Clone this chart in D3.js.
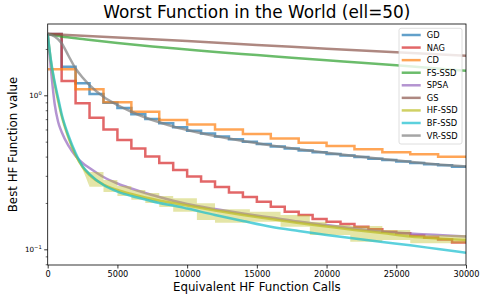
<!DOCTYPE html>
<html>
<head>
<meta charset="utf-8">
<script src="https://cdn.jsdelivr.net/npm/d3@7"></script>
<style>
  body { margin: 0; background: #fff; }
  svg text { font-family: "DejaVu Sans", sans-serif; fill: #000; }
</style>
</head>
<body>
<div id="chart"></div>
<script>
// ---- data (x = HF function calls, y = best value) ----
const xTickValues = [0, 5000, 10000, 15000, 20000, 25000, 30000];
const yMajorTicks = [0.1, 1];
const yMinorTicks = [0.08, 0.09, 0.2, 0.3, 0.4, 0.5, 0.6, 0.7, 0.8, 0.9, 2];

const names = ["GD", "NAG", "CD", "FS-SSD", "SPSA", "GS", "HF-SSD", "BF-SSD", "VR-SSD"];

// step methods, one value per 1000 calls
const callsBy1000 = [0, 1000, 2000, 3000, 4000, 5000, 6000, 7000, 8000, 9000,
  10000, 11000, 12000, 13000, 14000, 15000, 16000, 17000, 18000, 19000,
  20000, 21000, 22000, 23000, 24000, 25000, 26000, 27000, 28000, 29000];
const gdValues = [2.5, 1.534, 1.197, 1.020, 0.895, 0.827, 0.753, 0.702, 0.658, 0.620,
  0.589, 0.565, 0.540, 0.518, 0.500, 0.483, 0.466, 0.451, 0.438, 0.427,
  0.416, 0.406, 0.397, 0.388, 0.380, 0.372, 0.364, 0.357, 0.351, 0.344];
const nagValues = [2.5, 1.238, 0.887, 0.715, 0.600, 0.513, 0.451, 0.400, 0.363, 0.327,
  0.297, 0.276, 0.254, 0.234, 0.2186, 0.2038, 0.189, 0.1754, 0.167, 0.1573,
  0.1511, 0.146, 0.1402, 0.1349, 0.1301, 0.127, 0.1229, 0.1193, 0.1158, 0.1107];

// CD steps every 2000 calls
const callsBy2000 = [0, 2000, 4000, 6000, 8000, 10000, 12000, 14000, 16000, 18000,
  20000, 22000, 24000, 26000, 28000];
const cdValues = [1.475, 1.094, 0.901, 0.782, 0.691, 0.646, 0.600, 0.561, 0.524, 0.492,
  0.469, 0.446, 0.427, 0.414, 0.399];

// slow methods
const gsCalls = [0, 2500, 5000, 7500, 10000, 12500, 15000, 17500, 20000, 22500, 25000, 27500, 30000];
const gsValues = [2.5, 2.434, 2.373, 2.310, 2.252, 2.186, 2.121, 2.065, 2.007, 1.954, 1.902, 1.854, 1.807];
const fsCalls = [0, 1000, 2500, 5000, 7500, 10000, 12500, 15000, 17500, 20000, 22500, 25000, 27500, 30000];
const fsValues = [2.5, 2.409, 2.321, 2.186, 2.074, 1.983, 1.896, 1.827, 1.754, 1.688, 1.628, 1.566, 1.504, 1.444];

// fast smooth methods on a shared grid
const smoothCalls = [0, 250, 500, 750, 1000, 1500, 2000, 2500, 3000, 4000, 5000, 6000, 7000,
  8000, 9000, 10000, 12000, 14000, 16000, 18000, 20000, 22000, 24000, 26000, 28000, 30000];
const spsaValues = [2.5, 1.417, 0.878, 0.671, 0.578, 0.469, 0.4036, 0.3634, 0.3372, 0.2947, 0.2676,
  0.2482, 0.2320, 0.2186, 0.2068, 0.1968, 0.1827, 0.1708, 0.1609, 0.1515, 0.1438, 0.1365,
  0.1305, 0.1266, 0.1239, 0.1211];
const hfValues = [2.5, 1.621, 1.184, 0.918, 0.734, 0.528, 0.4097, 0.3423, 0.3038, 0.2635, 0.2427,
  0.2286, 0.2170, 0.2074, 0.1998, 0.1925, 0.1786, 0.1670, 0.1573, 0.1482, 0.1406, 0.1335,
  0.1276, 0.1211, 0.1175, 0.1149];
const bfValues = [2.5, 1.645, 1.220, 0.960, 0.756, 0.544, 0.422, 0.347, 0.308, 0.2615, 0.2372,
  0.2219, 0.2106, 0.1998, 0.1925, 0.1840, 0.1670, 0.1527, 0.1402, 0.1315, 0.1239, 0.1175,
  0.1115, 0.1062, 0.1004, 0.0950];

const vrCalls = [0, 500, 1000, 1500, 2000, 2500, 3000, 4000, 5000, 6000, 7000, 8000, 9000,
  10000, 12000, 14000, 16000, 18000, 20000, 22000, 24000, 26000, 28000, 30000];
const vrValues = [2.5, 2.409, 2.177, 1.80, 1.493, 1.305, 1.166, 0.979, 0.865, 0.782, 0.718, 0.668,
  0.627, 0.595, 0.544, 0.505, 0.473, 0.446, 0.423, 0.404, 0.386, 0.370, 0.356, 0.345];

// HF-SSD spread band (smooth up to 3000, stepped afterwards)
const hfBandCalls = [0, 250, 500, 750, 1000, 1500, 2000, 2500, 3000, 4000, 5000, 6000, 7000, 8000,
  9000, 10700, 12000, 14500, 16700, 18800, 20000, 21700, 24000, 26000, 30000];
const hfBandHigh = [2.5, 1.68, 1.24, 0.95, 0.76, 0.545, 0.42, 0.352, 0.3176, 0.2818, 0.2576, 0.2427,
  0.2320, 0.2219, 0.2144, 0.1989, 0.1818, 0.1754, 0.1670, 0.1511, 0.1438, 0.1417, 0.1335, 0.1239, 0.1239];
const hfBandLow = [2.5, 1.57, 1.14, 0.885, 0.71, 0.51, 0.395, 0.33, 0.255, 0.236, 0.222, 0.210,
  0.1998, 0.1882, 0.1754, 0.1550, 0.1488, 0.1511, 0.1402, 0.1239, 0.1239, 0.1120, 0.1149, 0.1094, 0.1094];

// ---- layout ----
const W = 486, H = 300;
const margin = {top: 24, right: 20, bottom: 35, left: 47.7};
const colors = ["#1f77b4", "#d62728", "#ff7f0e", "#2ca02c", "#9467bd", "#8c564b", "#bcbd22", "#17becf", "#7f7f7f"];
const lineW = 2.5, lineAlpha = 0.7;

const x = d3.scaleLinear().domain([0, 30000]).range([margin.left, W - margin.right]);
const y = d3.scaleLog().domain([0.0791, 2.904]).range([H - margin.bottom, margin.top]);

const svg = d3.select("#chart").append("svg")
  .attr("width", W)
  .attr("height", H);

svg.append("defs").append("clipPath").attr("id", "clip")
  .append("rect")
  .attr("x", x.range()[0]).attr("y", margin.top)
  .attr("width", x.range()[1] - x.range()[0])
  .attr("height", H - margin.bottom - margin.top);

const plot = svg.append("g").attr("clip-path", "url(#clip)");

const pairs = (xs, vs) => xs.map((d, i) => [d, vs[i]]);
// close a step series at the right edge of the axis
const stepPairs = (xs, vs) => pairs(xs, vs).concat([[30000, vs[vs.length - 1]]]);

const smooth = d3.line().x(d => x(d[0])).y(d => y(d[1])).curve(d3.curveMonotoneX);
const straight = d3.line().x(d => x(d[0])).y(d => y(d[1]));
const stepped = d3.line().x(d => x(d[0])).y(d => y(d[1])).curve(d3.curveStepAfter);

function drawLine(pts, gen, color) {
  plot.append("path")
    .datum(pts)
    .attr("d", gen)
    .attr("fill", "none")
    .attr("stroke", color)
    .attr("stroke-width", lineW)
    .attr("stroke-opacity", lineAlpha)
    .attr("stroke-linejoin", "miter");
}

drawLine(stepPairs(callsBy1000, gdValues), stepped, colors[0]);
drawLine(stepPairs(callsBy1000, nagValues), stepped, colors[1]);
drawLine(stepPairs(callsBy2000, cdValues), stepped, colors[2]);
drawLine(pairs(fsCalls, fsValues), smooth, colors[3]);
drawLine(pairs(smoothCalls, spsaValues), smooth, colors[4]);
drawLine(pairs(gsCalls, gsValues), straight, colors[5]);

// HF-SSD band
const band = hfBandCalls.map((d, i) => ({c: d, hi: hfBandHigh[i], lo: hfBandLow[i]}));
const splitAt = hfBandCalls.indexOf(3000);
const areaSmooth = d3.area().x(d => x(d.c)).y0(d => y(d.lo)).y1(d => y(d.hi)).curve(d3.curveMonotoneX);
const areaStep = d3.area().x(d => x(d.c)).y0(d => y(d.lo)).y1(d => y(d.hi)).curve(d3.curveStepAfter);
plot.append("path").datum(band.slice(0, splitAt + 1)).attr("d", areaSmooth)
  .attr("fill", colors[6]).attr("fill-opacity", 0.4);
plot.append("path").datum(band.slice(splitAt)).attr("d", areaStep)
  .attr("fill", colors[6]).attr("fill-opacity", 0.4);
drawLine(pairs(smoothCalls, hfValues), smooth, colors[6]);

drawLine(pairs(smoothCalls, bfValues), smooth, colors[7]);
drawLine(pairs(vrCalls, vrValues), smooth, colors[8]);

// ---- axes ----
const xAxis = svg.append("g")
  .attr("transform", `translate(0,${H - margin.bottom})`)
  .call(d3.axisBottom(x).tickValues(xTickValues).tickSize(3.5).tickPadding(2.5).tickFormat(d3.format("d")));
xAxis.select(".domain").remove();
xAxis.selectAll("text").attr("font-size", "8.2px");
xAxis.selectAll("line").attr("stroke", "#000").attr("stroke-width", 0.8);

const yAxis = svg.append("g")
  .attr("transform", `translate(${margin.left},0)`)
  .call(d3.axisLeft(y).tickValues(yMajorTicks).tickSize(3.5).tickFormat(""));
yAxis.select(".domain").remove();
yAxis.selectAll("line").attr("stroke", "#000").attr("stroke-width", 0.8);

const yMinor = svg.append("g")
  .attr("transform", `translate(${margin.left},0)`)
  .call(d3.axisLeft(y).tickValues(yMinorTicks).tickSize(2).tickFormat(""));
yMinor.select(".domain").remove();
yMinor.selectAll("line").attr("stroke", "#000").attr("stroke-width", 0.6);

// log tick labels 10^n
const yLabels = svg.append("g");
yMajorTicks.forEach(v => {
  const t = yLabels.append("text")
    .attr("x", margin.left - 6)
    .attr("y", y(v) + 2.6)
    .attr("text-anchor", "end")
    .attr("font-size", "7.2px");
  t.append("tspan").text("10");
  t.append("tspan").attr("dy", -3.2).attr("font-size", "5.2px")
    .text(Math.round(Math.log10(v)) === 0 ? "0" : "\u2212" + Math.abs(Math.round(Math.log10(v))));
});

// frame
svg.append("rect")
  .attr("x", x.range()[0]).attr("y", margin.top)
  .attr("width", x.range()[1] - x.range()[0])
  .attr("height", H - margin.bottom - margin.top)
  .attr("fill", "none")
  .attr("stroke", "#000")
  .attr("stroke-width", 0.8);

// titles
svg.append("text")
  .attr("x", (x.range()[0] + x.range()[1]) / 2)
  .attr("y", 18.3)
  .attr("text-anchor", "middle")
  .attr("font-size", "16.9px")
  .text("Worst Function in the World (ell=50)");

svg.append("text")
  .attr("x", (x.range()[0] + x.range()[1]) / 2)
  .attr("y", 291)
  .attr("text-anchor", "middle")
  .attr("font-size", "11.8px")
  .text("Equivalent HF Function Calls");

svg.append("text")
  .attr("transform", `translate(16.7,${(margin.top + H - margin.bottom) / 2}) rotate(-90)`)
  .attr("text-anchor", "middle")
  .attr("font-size", "11.8px")
  .text("Best HF Function value");

// ---- legend ----
const legend = svg.append("g");
legend.append("rect")
  .attr("x", 399).attr("y", 28.3)
  .attr("width", 63).attr("height", 115.7)
  .attr("rx", 2)
  .attr("fill", "#fff").attr("fill-opacity", 0.8)
  .attr("stroke", "#d6d6d6").attr("stroke-width", 0.8);

const item = legend.selectAll(".item")
  .data(names)
  .enter().append("g")
  .attr("class", "item")
  .attr("transform", (d, i) => `translate(401.7,${35 + i * 12.57})`);

item.append("line")
  .attr("x1", 0).attr("x2", 19)
  .attr("stroke", (d, i) => colors[i])
  .attr("stroke-width", lineW)
  .attr("stroke-opacity", lineAlpha);

item.append("text")
  .attr("x", 25)
  .attr("y", 3)
  .attr("font-size", "8.3px")
  .text(d => d);
</script>
</body>
</html>
